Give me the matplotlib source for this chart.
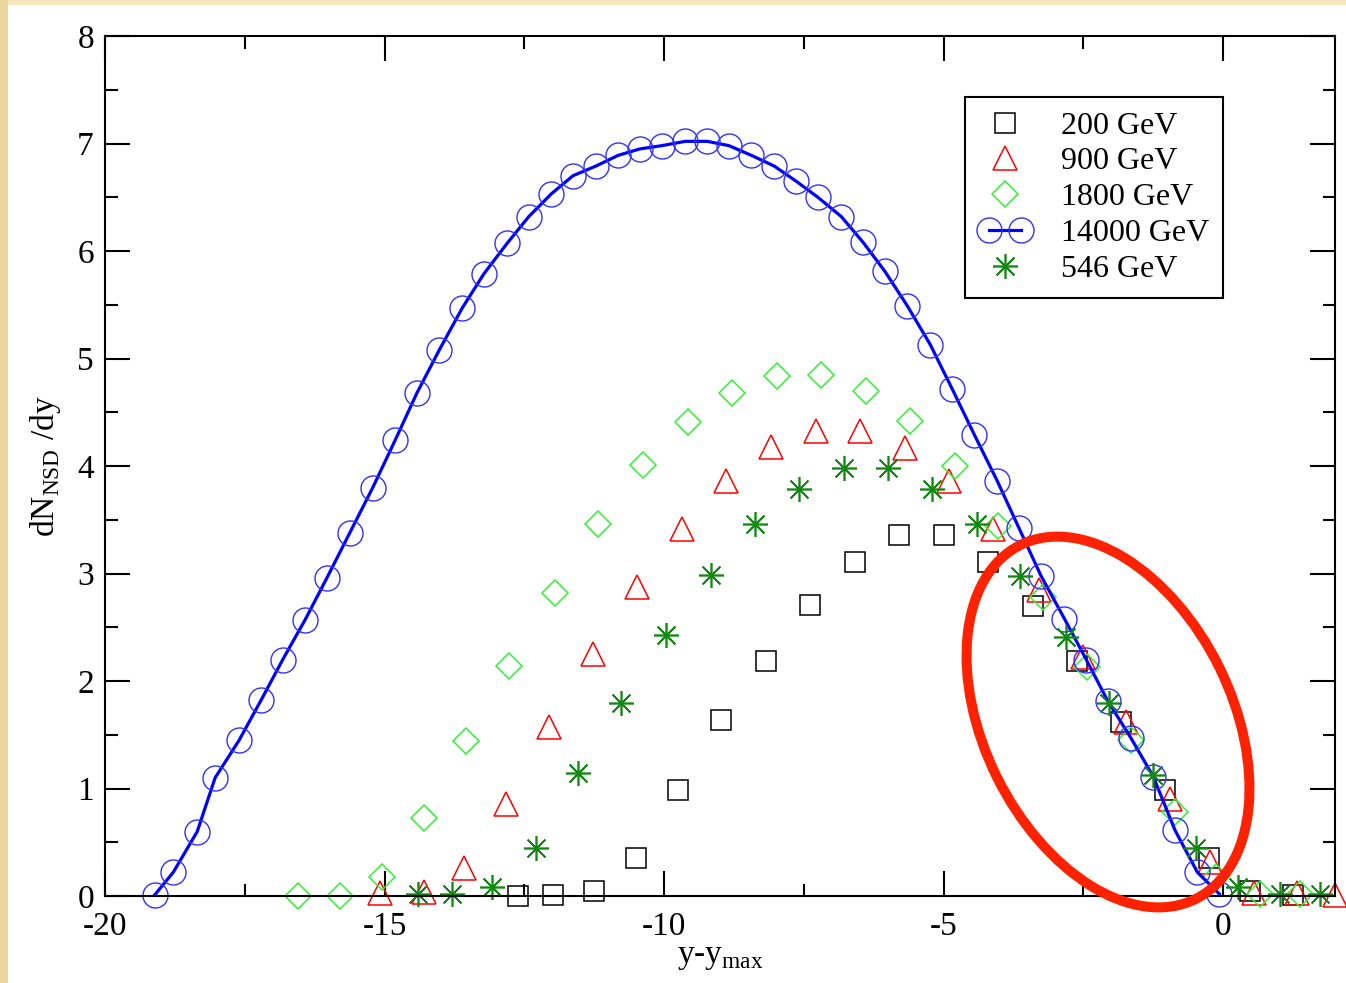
import matplotlib
matplotlib.use("Agg")
import matplotlib.pyplot as plt
import matplotlib.transforms as mtransforms
from matplotlib.patches import Ellipse, Rectangle
from matplotlib.legend_handler import HandlerLine2D
from matplotlib.ticker import MultipleLocator

# 14000 GeV (line + circles)
x14000 = [-19.11, -18.78, -18.35, -18.03, -17.60, -17.21, -16.82, -16.42, -16.03, -15.62,
          -15.21, -14.81, -14.42, -14.02, -13.61, -13.22, -12.81, -12.42, -12.02, -11.63,
          -11.22, -10.82, -10.43, -10.04, -9.62, -9.23, -8.84, -8.44, -8.03, -7.64,
          -7.25, -6.83, -6.44, -6.05, -5.65, -5.24, -4.85, -4.45, -4.04, -3.65,
          -3.26, -2.84, -2.45, -2.06, -1.65, -1.25, -0.86, -0.46, -0.07]
y14000 = [0.01, 0.22, 0.60, 1.10, 1.45, 1.82, 2.20, 2.57, 2.96, 3.38,
          3.80, 4.24, 4.68, 5.08, 5.47, 5.79, 6.07, 6.32, 6.53, 6.70,
          6.79, 6.89, 6.95, 6.98, 7.02, 7.02, 6.98, 6.89, 6.79, 6.65,
          6.50, 6.32, 6.08, 5.81, 5.49, 5.13, 4.72, 4.29, 3.86, 3.42,
          2.98, 2.58, 2.20, 1.81, 1.47, 1.11, 0.61, 0.22, 0.02]

# 200 GeV
x200 = [-12.61, -11.98, -11.25, -10.50, -9.75, -8.98, -8.18, -7.39, -6.59, -5.80,
        -5.00, -4.21, -3.41, -2.62, -1.82, -1.04, -0.25, 0.48, 1.25]
y200 = [0.0, 0.01, 0.05, 0.35, 0.99, 1.64, 2.19, 2.71, 3.11, 3.36,
        3.36, 3.11, 2.70, 2.19, 1.62, 0.99, 0.35, 0.05, 0.01]

# 900 GeV
x900 = [-15.09, -14.30, -13.57, -12.82, -12.05, -11.27, -10.48, -9.68, -8.89, -8.09,
        -7.29, -6.50, -5.70, -4.91, -4.11, -3.30, -2.50, -1.73, -0.95, -0.23,
        0.55, 1.32, 2.0]
y900 = [0.03, 0.04, 0.26, 0.86, 1.57, 2.25, 2.87, 3.41, 3.86, 4.18,
        4.33, 4.33, 4.17, 3.86, 3.41, 2.85, 2.22, 1.62, 0.90, 0.32,
        0.03, 0.03, 0.01]

# 1800 GeV
x1800 = [-16.55, -15.80, -15.05, -14.30, -13.55, -12.77, -11.96, -11.18, -10.38, -9.57,
         -8.79, -7.98, -7.20, -6.39, -5.61, -4.80, -4.02, -3.23, -2.43, -1.64,
         -0.86, -0.12, 0.66, 1.37]
y1800 = [0.0, 0.0, 0.18, 0.73, 1.44, 2.14, 2.82, 3.46, 4.01, 4.41,
         4.68, 4.84, 4.85, 4.70, 4.42, 4.00, 3.44, 2.78, 2.13, 1.45,
         0.78, 0.18, 0.02, 0.02]

# 546 GeV
x546 = [-14.41, -13.80, -13.07, -12.29, -11.54, -10.77, -9.96, -9.16, -8.37, -7.59,
        -6.79, -6.00, -5.20, -4.41, -3.63, -2.82, -2.05, -1.25, -0.48, 0.27,
        1.02, 1.73]
y546 = [0.02, 0.02, 0.08, 0.45, 1.14, 1.80, 2.43, 2.99, 3.46, 3.79,
        3.98, 3.98, 3.79, 3.46, 2.98, 2.41, 1.80, 1.13, 0.45, 0.08,
        0.02, 0.02]

plt.rcParams["font.family"] = ["Liberation Serif", "DejaVu Serif"]
plt.rcParams["mathtext.fontset"] = "custom"
plt.rcParams["mathtext.rm"] = "Liberation Serif"
plt.rcParams["axes.unicode_minus"] = False

W, H = 1346, 983
fig = plt.figure(figsize=(W / 100, H / 100), dpi=100)
fig.patch.set_facecolor("white")

# yellowish slide border (top and left strips)
px = mtransforms.Affine2D().scale(1 / W, 1 / H) + fig.transFigure
fig.add_artist(Rectangle((0, H - 5), W, 5, transform=px, color="#f5e8c0", lw=0))
fig.add_artist(Rectangle((0, 0), 8, H, transform=px, color="#ead59c", lw=0))

ax = fig.add_axes([105 / W, 1 - 896 / H, (1335 - 105) / W, (896 - 36) / H])

mew = 1.1
ax.plot(x200, y200, ls="none", marker="s", ms=15, mfc="none", mec="black", mew=mew,
        label="200 GeV", clip_on=False)
ax.plot(x900, y900, ls="none", marker="^", ms=17, mfc="none", mec="red", mew=mew,
        label="900 GeV", clip_on=False)
ax.plot(x1800, y1800, ls="none", marker="D", ms=13, mfc="none", mec="#33ee33", mew=mew,
        label="1800 GeV", clip_on=False)
blue, = ax.plot(x14000, y14000, "-", color="#0000ff", lw=2.3, marker="o", ms=18,
                mfc="none", mec="#3030ff", mew=1.0, label="14000 GeV", clip_on=False)
ax.plot(x546, y546, ls="none", marker=(8, 2, 0), ms=18, mec="#118811", mew=1.2,
        label="546 GeV", clip_on=False)

ax.set_xlim(-20, 2)
ax.set_ylim(0, 8)
ax.xaxis.set_major_locator(MultipleLocator(5))
ax.xaxis.set_minor_locator(MultipleLocator(2.5))
ax.yaxis.set_major_locator(MultipleLocator(1))
ax.yaxis.set_minor_locator(MultipleLocator(0.5))
ax.tick_params(which="both", direction="in", top=True, right=True, width=1.5)
ax.tick_params(which="major", length=18, labelsize=24)
ax.tick_params(which="minor", length=9)
ax.tick_params(axis="x", pad=11)
ax.tick_params(axis="y", pad=8)
for s in ax.spines.values():
    s.set_linewidth(1.5)

ax.set_xlabel(r"y-y$_{\mathregular{max}}$", fontsize=24, labelpad=0)
ax.set_ylabel(r"dN$_{\mathregular{NSD}}$ /dy", fontsize=24, labelpad=10)

leg = ax.legend(loc="upper left", bbox_to_anchor=(965 / W, 1 - 97 / H),
                bbox_transform=fig.transFigure, fontsize=23, frameon=True,
                fancybox=False, edgecolor="black", framealpha=1, numpoints=1,
                handlelength=1.6, handletextpad=0.95, labelspacing=0.2,
                borderpad=0.45, borderaxespad=0,
                handler_map={blue: HandlerLine2D(numpoints=2)})
leg.get_frame().set_linewidth(1.5)

# red annotation ellipse (pixel units)
ell = Ellipse((1108, H - 722), width=395, height=248, angle=-63.7, transform=px,
              fill=False, edgecolor="#ff2200", lw=7.2, clip_on=False, zorder=10)
fig.add_artist(ell)

fig.savefig("out.png", dpi=100)
